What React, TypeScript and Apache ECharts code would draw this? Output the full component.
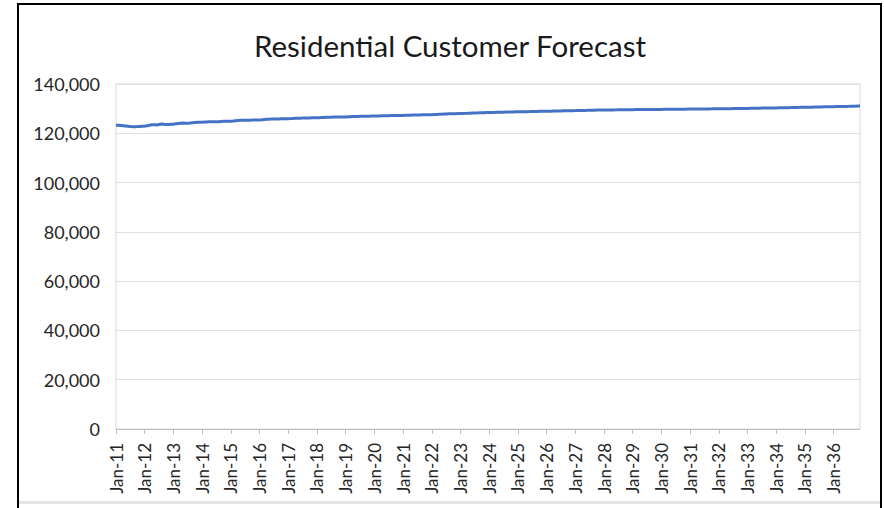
import React, { useEffect, useRef } from "react";
import * as echarts from "echarts";

const title = "Residential Customer Forecast";
const monthNames = ["Jan", "Feb", "Mar", "Apr", "May", "Jun", "Jul", "Aug", "Sep", "Oct", "Nov", "Dec"];
const years = ["11", "12", "13", "14", "15", "16", "17", "18", "19", "20", "21", "22", "23", "24", "25", "26", "27", "28", "29", "30", "31", "32", "33", "34", "35", "36"];
const yTicks = [0, 20000, 40000, 60000, 80000, 100000, 120000, 140000];

// Monthly residential customers, Jan-11 .. Dec-36 (one row per year)
const customers = [
  123300, 123250, 123150, 123050, 122950, 122850, 122750, 122700, 122680, 122720, 122800, 122850,
  122900, 123050, 123250, 123450, 123500, 123400, 123600, 123800, 123650, 123550, 123600, 123650,
  123700, 123850, 123950, 124050, 124150, 124100, 124050, 124150, 124300, 124400, 124450, 124480,
  124500, 124550, 124600, 124650, 124700, 124680, 124650, 124700, 124780, 124850, 124880, 124890,
  124900, 124950, 125050, 125150, 125250, 125280, 125300, 125320, 125340, 125360, 125380, 125390,
  125400, 125450, 125550, 125650, 125720, 125760, 125790, 125810, 125830, 125850, 125870, 125880,
  125900, 125950, 126020, 126080, 126120, 126150, 126180, 126210, 126230, 126250, 126270, 126290,
  126300, 126340, 126390, 126440, 126490, 126520, 126550, 126570, 126590, 126610, 126630, 126640,
  126650, 126690, 126730, 126770, 126810, 126840, 126870, 126900, 126920, 126940, 126960, 126980,
  127000, 127030, 127060, 127090, 127120, 127140, 127160, 127180, 127200, 127220, 127230, 127240,
  127250, 127280, 127310, 127340, 127370, 127400, 127430, 127460, 127480, 127500, 127520, 127540,
  127550, 127600, 127650, 127700, 127750, 127800, 127840, 127880, 127910, 127940, 127960, 127980,
  128000, 128040, 128080, 128120, 128160, 128200, 128240, 128280, 128310, 128340, 128370, 128390,
  128400, 128430, 128460, 128490, 128520, 128550, 128580, 128610, 128640, 128660, 128680, 128690,
  128700, 128720, 128740, 128760, 128780, 128800, 128830, 128860, 128890, 128910, 128930, 128940,
  128950, 128970, 128990, 129010, 129030, 129050, 129080, 129110, 129140, 129160, 129180, 129190,
  129200, 129220, 129240, 129260, 129280, 129300, 129330, 129360, 129390, 129410, 129430, 129440,
  129450, 129460, 129470, 129480, 129490, 129500, 129520, 129540, 129560, 129570, 129580, 129590,
  129600, 129610, 129620, 129630, 129640, 129650, 129660, 129670, 129680, 129690, 129695, 129698,
  129700, 129710, 129720, 129730, 129740, 129750, 129760, 129770, 129780, 129790, 129800, 129810,
  129820, 129830, 129840, 129850, 129860, 129870, 129880, 129890, 129900, 129910, 129930, 129940,
  129950, 129960, 129970, 129980, 129990, 130000, 130020, 130040, 130060, 130070, 130080, 130090,
  130100, 130120, 130140, 130160, 130180, 130200, 130220, 130240, 130260, 130270, 130280, 130290,
  130300, 130320, 130340, 130360, 130380, 130400, 130420, 130450, 130480, 130510, 130530, 130540,
  130550, 130570, 130590, 130610, 130630, 130650, 130670, 130700, 130730, 130760, 130780, 130790,
  130800, 130820, 130840, 130860, 130880, 130900, 130920, 130950, 130980, 131010, 131040, 131050,
];

const categories: string[] = [];
years.forEach((y) => monthNames.forEach((m) => categories.push(`${m}-${y}`)));

export default function App() {
  const ref = useRef<HTMLDivElement>(null);
  useEffect(() => {
    if (!ref.current) return;
    const chart = echarts.init(ref.current, null, { renderer: "svg" });
    const font = "Lato, 'Noto Sans', sans-serif";
    chart.setOption({
      animation: false,
      backgroundColor: "#ffffff",
      textStyle: { fontFamily: font },
      graphic: [
        { type: "rect", shape: { x: 17, y: 3, width: 865, height: 2 }, style: { fill: "#000" } },
        { type: "rect", shape: { x: 17, y: 3, width: 2, height: 505 }, style: { fill: "#000" } },
        { type: "rect", shape: { x: 880, y: 3, width: 2, height: 505 }, style: { fill: "#000" } },
        { type: "rect", shape: { x: 19, y: 501, width: 861, height: 3 }, style: { fill: "#e4e4e4" } },
        {
          type: "text",
          x: 450,
          y: 45,
          style: {
            text: title,
            fontFamily: font,
            fontSize: 29.5,
            fill: "#1a1a1a",
            textAlign: "center",
            textVerticalAlign: "middle",
          },
        },
      ],
      grid: { left: 116, right: 24, top: 84, bottom: 79, show: true, borderColor: "#d9d9d9", borderWidth: 1 },
      xAxis: {
        type: "category",
        data: categories,
        boundaryGap: false,
        axisLine: { lineStyle: { color: "#bfbfbf" } },
        axisTick: { interval: 11, length: 5, lineStyle: { color: "#bfbfbf" } },
        axisLabel: { interval: 11, rotate: 90, fontSize: 17, color: "#262626", margin: 14, fontFamily: font },
        splitLine: { show: false },
      },
      yAxis: {
        type: "value",
        min: yTicks[0],
        max: yTicks[yTicks.length - 1],
        interval: 20000,
        axisLine: { show: false },
        axisTick: { show: false },
        axisLabel: {
          fontSize: 18,
          color: "#262626",
          margin: 16,
          fontFamily: font,
          formatter: (v: number) => v.toLocaleString("en-US"),
        },
        splitLine: { lineStyle: { color: "#e0e0e0" } },
      },
      series: [
        {
          type: "line",
          data: customers,
          showSymbol: false,
          lineStyle: { color: "#4472C4", width: 3 },
          itemStyle: { color: "#4472C4" },
        },
      ],
    });
    return () => chart.dispose();
  }, []);
  return <div ref={ref} style={{ position: "fixed", left: 0, top: 0, width: 884, height: 508 }} />;
}
